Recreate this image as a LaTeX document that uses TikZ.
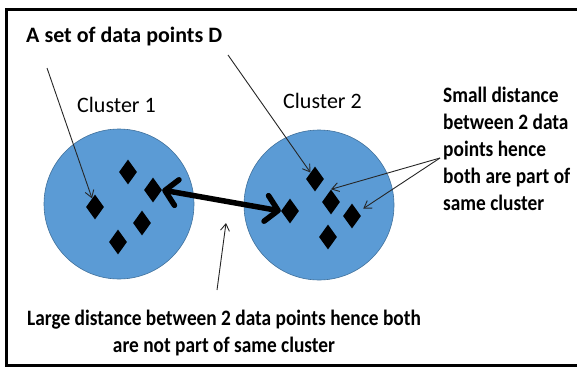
\documentclass[tikz,border=0pt]{standalone}
\usepackage{fontspec}
\setmainfont{Carlito}
\newfontfamily\condfont[FakeStretch=0.88]{Carlito}
\usetikzlibrary{arrows.meta,shapes.geometric}
\definecolor{cblue}{HTML}{5B9BD5}
\definecolor{cedge}{HTML}{41719C}
\begin{document}
\begin{tikzpicture}[x=1pt,y=-1pt,
  cluster/.style={circle, fill=cblue, draw=cedge, line width=0.6pt, minimum size=150pt, inner sep=0pt},
  datapt/.style={diamond, fill=black, minimum width=18pt, minimum height=25pt, inner sep=0pt},
  pointer/.style={-{Straight Barb[length=7pt,width=9pt]}, line width=0.9pt, draw=black!85},
  bigarrow/.style={{Straight Barb[length=12pt,width=26pt,round]}-{Straight Barb[length=12pt,width=26pt,round]}, line width=5.5pt, line cap=round},
  title/.style={font=\fontsize{22}{26}\selectfont\bfseries, inner sep=0pt, anchor=base west},
  clabel/.style={font=\fontsize{22}{26}\selectfont, inner sep=0pt, anchor=base west},
  note/.style={font=\condfont\fontsize{22}{27}\selectfont\bfseries, inner sep=0pt}
]
\useasboundingbox (0,0) rectangle (577,367);
\clip (0,0) rectangle (577,367);
\draw[line width=3pt] (580,9) -- (6.5,9) -- (6.5,365.5) -- (580,365.5);

\node[cluster] (c1) at (119,204) {};
\node[cluster] (c2) at (319,205) {};

\node[datapt] (d1) at (95,207) {};
\node[datapt] (d2) at (128,172) {};
\node[datapt] (d3) at (153,190) {};
\node[datapt] (d4) at (142,223) {};
\node[datapt] (d5) at (118,242) {};

\node[datapt] (e1) at (315,179) {};
\node[datapt] (e2) at (290,211) {};
\node[datapt] (e3) at (331,202) {};
\node[datapt] (e4) at (352,216) {};
\node[datapt] (e5) at (328,237) {};

\node[title] (t) at (26,42) {A set of data points D};
\node[clabel] (l1) at (77,112) {Cluster 1};
\node[clabel] (l2) at (283,108) {Cluster 2};
\node[note, align=left, anchor=north west] (small) at (443,87)
  {Small distance\\between 2 data\\points hence\\both are part of\\same cluster};
\node[note, align=center, anchor=north] (large) at (224,310)
  {Large distance between 2 data points hence both\\are not part of same cluster};

\draw[bigarrow] (d3.east) -- (e2.west);

\coordinate (s1) at (47,68);
\coordinate (s2) at (228,55);
\coordinate (s3) at (440,158);
\coordinate (b0) at (217,290);
\coordinate (b1) at (226,223);
\draw[pointer] (s1) -- (d1);
\draw[pointer] (s2) -- (e1);
\draw[pointer] (s3) -- (e3.north);
\draw[pointer, shorten >=6pt] (s3) -- (e4);
\draw[pointer] (b0) -- (b1);
\end{tikzpicture}
\end{document}
